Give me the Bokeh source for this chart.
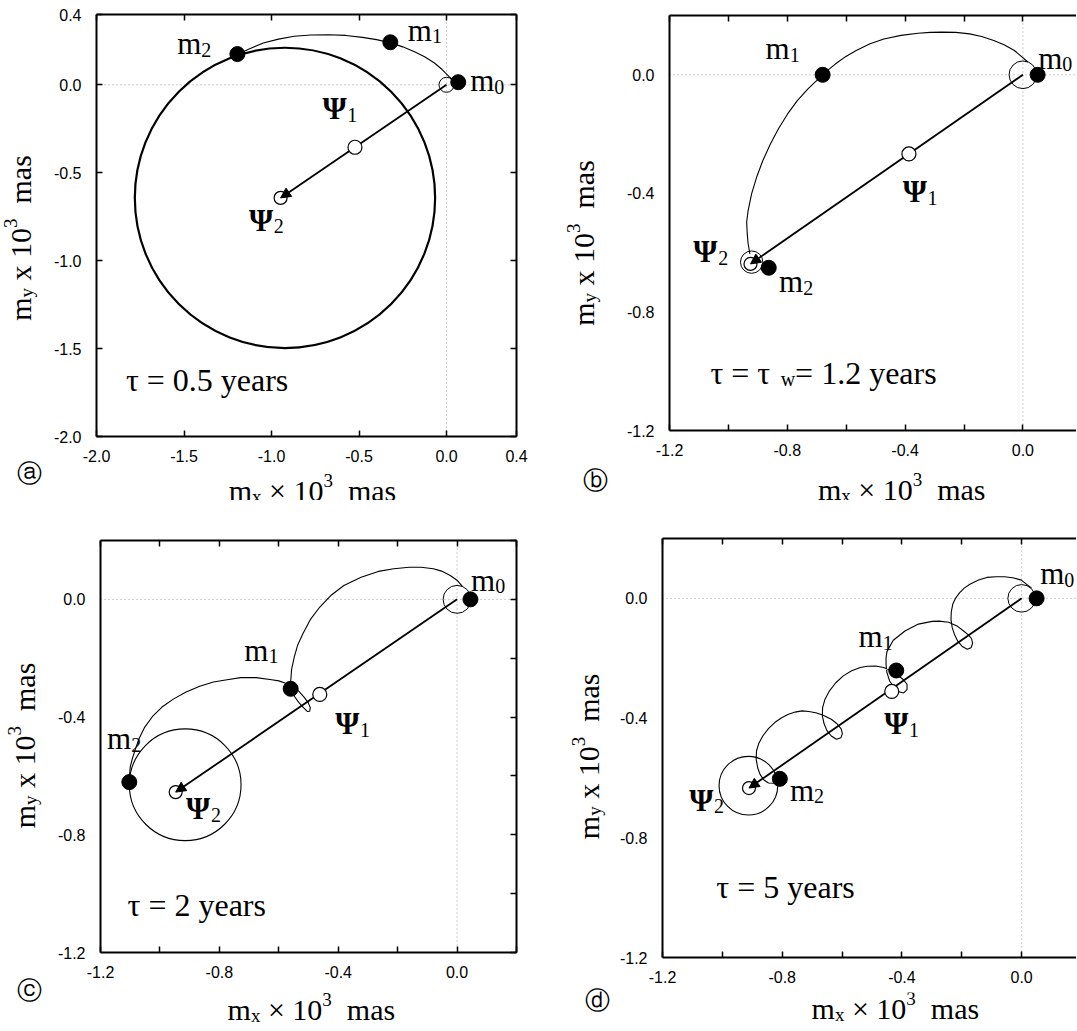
import math
from bokeh.plotting import figure
from bokeh.models import Label, Span, Arrow, NormalHead, LinearAxis, FixedTicker, PrintfTickFormatter
from bokeh.layouts import row, column
from bokeh.embed import file_html
from bokeh.resources import INLINE

SERIF = "Liberation Serif"
SANS = "Liberation Sans"

# ---------------- data ----------------
# panel a (tau = 0.5 yr)
a_path_x = [0.035, 0.019, -0.025, -0.069, -0.125, -0.186, -0.25, -0.323, -0.40, -0.48, -0.575, -0.675, -0.775, -0.871, -0.96, -1.047, -1.125, -1.195]
a_path_y = [0.030, 0.043, 0.087, 0.124, 0.160, 0.190, 0.216, 0.240, 0.257, 0.270, 0.281, 0.285, 0.283, 0.276, 0.260, 0.238, 0.205, 0.172]
a_free_circle = (-0.923, -0.643, 0.858)     # centre x, centre y, radius of the wobble after the excitation
a_m_x = [0.067, -0.321, -1.195]
a_m_y = [0.015, 0.242, 0.175]
a_psi_x = [-0.523, -0.948]
a_psi_y = [-0.355, -0.643]

# panel b (tau = tau_w = 1.2 yr)
b_path_x = [0.017, -0.029, -0.064, -0.099, -0.14, -0.181, -0.228, -0.274, -0.315, -0.356, -0.414, -0.472, -0.519, -0.566, -0.601, -0.636,
            -0.659, -0.68, -0.706, -0.729, -0.766, -0.799, -0.83, -0.857, -0.883, -0.904, -0.921, -0.933, -0.938, -0.936, -0.933, -0.927]
b_path_y = [0.043, 0.082, 0.101, 0.116, 0.129, 0.138, 0.143, 0.144, 0.143, 0.14, 0.133, 0.121, 0.105, 0.082, 0.062, 0.037,
            0.018, -0.002, -0.025, -0.047, -0.087, -0.132, -0.182, -0.233, -0.289, -0.345, -0.401, -0.458, -0.497, -0.536, -0.57, -0.604]
b_m_x = [0.05, -0.68, -0.863]
b_m_y = [0.0, 0.0, -0.651]
b_psi_x = [-0.387, -0.925]
b_psi_y = [-0.267, -0.638]
b_end_circle = (-0.921, -0.632, 0.038)

# panel c (tau = 2 yr)
c_path_x = [0.018, 0.001, -0.023, -0.052, -0.080, -0.121, -0.161, -0.213, -0.265, -0.323, -0.381, -0.425, -0.462, -0.494, -0.519, -0.537,
            -0.548, -0.557, -0.56, -0.557, -0.547, -0.533, -0.517, -0.504, -0.496, -0.494, -0.501, -0.515, -0.533, -0.554, -0.577,
            -0.60, -0.624, -0.676, -0.728, -0.774, -0.82, -0.866, -0.912, -0.955, -0.993, -1.025, -1.051, -1.07, -1.084, -1.093, -1.10, -1.102, -1.103]
c_path_y = [0.044, 0.064, 0.081, 0.096, 0.104, 0.109, 0.109, 0.104, 0.095, 0.075, 0.047, 0.013, -0.026, -0.069, -0.117, -0.157,
            -0.196, -0.239, -0.281, -0.307, -0.33, -0.35, -0.368, -0.381, -0.38, -0.368, -0.351, -0.332, -0.312, -0.295, -0.285,
            -0.277, -0.273, -0.266, -0.266, -0.273, -0.281, -0.295, -0.315, -0.339, -0.366, -0.398, -0.434, -0.473, -0.513, -0.542, -0.57, -0.595, -0.621]
c_m_x = [0.045, -0.56, -1.103]
c_m_y = [0.0, -0.304, -0.621]
c_psi_x = [-0.462, -0.947]
c_psi_y = [-0.323, -0.655]
c_end_circle = (-0.915, -0.63, 0.188)

# panel d (tau = 5 yr)
d_path_x = [0.033, -0.001, -0.03, -0.058, -0.087, -0.116, -0.144, -0.173, -0.191, -0.207, -0.221, -0.23, -0.235, -0.236,
            -0.232, -0.224, -0.213, -0.198, -0.182, -0.169, -0.164, -0.167, -0.178, -0.194, -0.216, -0.244,
            -0.276, -0.299, -0.345, -0.39, -0.429, -0.45, -0.453, -0.453,
            -0.45, -0.441, -0.427, -0.41, -0.394, -0.383, -0.383, -0.395, -0.413, -0.436, -0.461,
            -0.488, -0.516, -0.539, -0.568, -0.596, -0.621, -0.642, -0.657, -0.665, -0.666, -0.66,
            -0.651, -0.636, -0.619, -0.604, -0.599, -0.603, -0.617, -0.636, -0.665,
            -0.688, -0.711, -0.734, -0.757, -0.779, -0.802, -0.825, -0.846, -0.865, -0.878, -0.886, -0.887, -0.882,
            -0.874, -0.862, -0.846, -0.827, -0.812]
d_path_y = [0.034, 0.061, 0.069, 0.072, 0.072, 0.070, 0.061, 0.047, 0.035, 0.019, 0.0, -0.019, -0.044, -0.07,
            -0.098, -0.122, -0.144, -0.161, -0.17, -0.165, -0.151, -0.135, -0.122, -0.109, -0.092, -0.08,
            -0.076, -0.077, -0.086, -0.109, -0.14, -0.178, -0.198, -0.222,
            -0.248, -0.276, -0.296, -0.312, -0.316, -0.305, -0.287, -0.272, -0.257, -0.242, -0.231,
            -0.226, -0.227, -0.231, -0.242, -0.259, -0.282, -0.309, -0.337, -0.365, -0.393, -0.419,
            -0.441, -0.46, -0.471, -0.466, -0.452, -0.436, -0.419, -0.404, -0.39,
            -0.382, -0.378, -0.376, -0.38, -0.387, -0.399, -0.415, -0.435, -0.46, -0.484, -0.51, -0.538, -0.566,
            -0.588, -0.606, -0.617, -0.618, -0.611]
d_m_x = [0.05, -0.419, -0.808]
d_m_y = [0.0, -0.241, -0.603]
d_psi_x = [-0.434, -0.911]
d_psi_y = [-0.311, -0.634]
d_end_circle = (-0.913, -0.626, 0.098)

start_circle_r = [0.043, 0.047, 0.047, 0.046]

a_xticks = [-2.0, -1.5, -1.0, -0.5, 0.0, 0.4]
a_yticks = [-2.0, -1.5, -1.0, -0.5, 0.0, 0.4]
a_xlabel_fix = {-1.0: "-0.1", "-1": "-0.1"}   # the printed figure labels the -1.0 tick "-0.1"
bcd_major = [-1.2, -0.8, -0.4, 0.0]
bcd_minor = [-1.0, -0.6, -0.2, 0.2]

# ---------------- text helpers ----------------
W = {'m': 0.778, 'x': 0.5, 'y': 0.5, ' ': 0.25, 'a': 0.444, 's': 0.389, 'e': 0.444, 'r': 0.333,
     '=': 0.564, '\u00d7': 0.564, '\u03c4': 0.44, '\u03a8': 0.80, 'w': 0.722, '.': 0.25, '-': 0.333}
BASE_FIX = 7       # the rendered baseline sits this many px below the label anchor
BASE_FIX_ROT = 14  # same correction for the rotated axis titles


def tw(s, fs):
    return sum(W.get(c, 0.5) for c in s) * fs


def rich(p, x, y, segs, rotate=False, center=False):
    total = sum(tw(s[0], s[1]) for s in segs)
    adv = -total / 2 if center else 0.0
    for s in segs:
        t, fs, dy = s[0], s[1], s[2]
        style = s[3] if len(s) > 3 else "normal"
        lead = len(t) - len(t.lstrip(' '))
        trail = len(t) - len(t.rstrip(' '))
        core = t.strip(' ')
        adv += lead * W[' '] * fs
        if core:
            kw = dict(x=x, y=y, text=core, text_font=SERIF, text_font_size=f"{fs}px", text_font_style=style,
                      text_color="black", text_align="left", text_baseline="alphabetic")
            if rotate:
                lab = Label(x_offset=-dy - BASE_FIX_ROT, y_offset=adv, angle=math.pi / 2, **kw)
            else:
                lab = Label(x_offset=adv, y_offset=dy + BASE_FIX, **kw)
            p.add_layout(lab)
        adv += tw(core, fs) + trail * W[' '] * fs


F = 31
FT = 30
FS = 16


def sub_label(p, x, y, main, idx, fs=F):
    style = "bold" if main == "\u03a8" else "normal"
    rich(p, x, y, [(main, fs, 0, style), (idx, round(fs * 0.66), -fs * 0.2)])


def x_title(p, x, y):
    rich(p, x, y, [("m", FT, 0), ("x", 19, -6), (" \u00d7 10", FT, 0), ("3", 19, 10), ("  mas", FT, 0)], center=True)


def y_title(p, x, y):
    rich(p, x, y, [("m", FT, 0), ("y", 19, -6), (" x 10", FT, 0), ("3", 19, 10), ("  mas", FT, 0)], rotate=True, center=True)


def style_axis(ax, show_labels, ticks_in=6, standoff=12):
    ax.axis_line_width = 2
    ax.axis_line_color = "black"
    ax.major_tick_in = ticks_in
    ax.major_tick_out = 0
    ax.minor_tick_in = ticks_in
    ax.minor_tick_out = 0
    ax.major_tick_line_width = 1.5
    ax.minor_tick_line_width = 1.5
    ax.axis_label = None
    ax.formatter = PrintfTickFormatter(format="%.1f")
    if show_labels:
        ax.major_label_text_font = SANS
        ax.major_label_text_font_size = f"{FS}px"
        ax.major_label_text_color = "black"
        ax.major_label_standoff = standoff
    else:
        ax.major_label_text_font_size = "1px"
        ax.major_label_text_alpha = 0
        ax.major_label_standoff = 0


def make_fig(width, height, xr, yr, borders, xticker, yticker, right_axis, left_ticks):
    p = figure(width=width, height=height, x_range=xr, y_range=yr,
               output_backend="svg", toolbar_location=None,
               min_border_left=borders[0], min_border_right=borders[1],
               min_border_top=borders[2], min_border_bottom=borders[3])
    p.grid.visible = False
    p.outline_line_color = None
    p.background_fill_color = "white"
    p.border_fill_color = "white"
    p.xaxis.ticker = xticker
    p.yaxis.ticker = yticker
    for ax in p.xaxis:
        style_axis(ax, True, 6, 13)
    for ax in p.yaxis:
        style_axis(ax, True, 6 if left_ticks else 0, 15)
    top = LinearAxis(ticker=xticker)
    style_axis(top, False)
    p.add_layout(top, "above")
    if right_axis:
        rt = LinearAxis(ticker=yticker)
        style_axis(rt, False)
        p.add_layout(rt, "right")
    for dim in ("width", "height"):
        p.add_layout(Span(location=0, dimension=dim, line_color="#9a9a9a", line_width=1,
                          line_dash="1 3", level="underlay"))
    return p


def text_fig(w, h):
    # a blank strip that holds axis titles and panel letters (its range is its own pixel grid)
    f = figure(width=w, height=h, x_range=(0, w), y_range=(0, h), output_backend="svg",
               toolbar_location=None, x_axis_location=None, y_axis_location=None, min_border=0)
    f.xgrid.visible = False
    f.ygrid.visible = False
    f.outline_line_color = None
    f.background_fill_color = "white"
    f.border_fill_color = "white"
    return f


def draw_common(p, m_x, m_y, psi_x, psi_y, r0):
    p.circle(x=[0.0], y=[0.0], radius=r0, fill_color=None, line_color="black", line_width=1)
    p.add_layout(Arrow(end=NormalHead(size=10, fill_color="black", line_color="black", line_width=1),
                       x_start=0.0, y_start=0.0, x_end=psi_x[-1], y_end=psi_y[-1],
                       line_width=1.8, line_color="black", level="underlay"))
    p.scatter(x=psi_x[:1], y=psi_y[:1], size=14, marker="circle", fill_color="white",
              line_color="black", line_width=1.2)
    p.scatter(x=psi_x[1:], y=psi_y[1:], size=13, marker="circle", fill_color=None,
              line_color="black", line_width=1.2)
    p.scatter(x=m_x, y=m_y, size=15, marker="circle", fill_color="black", line_color="black")


def circled(p, x, y, ch):
    p.add_layout(Label(x=x, y=y, text=ch, text_font="DejaVu Sans", text_font_size="25px",
                       text_align="center", text_baseline="middle", text_color="black"))


# ---------------- panel a ----------------
pa = make_fig(490, 472, (-2.0, 0.4), (-2.0, 0.4), (44, 24, 14, 36),
              FixedTicker(ticks=a_xticks), FixedTicker(ticks=a_yticks), True, True)
pa.xaxis[0].major_label_overrides = a_xlabel_fix
cx, cy, cr = a_free_circle
pa.circle(x=[cx], y=[cy], radius=cr, fill_color=None, line_color="black", line_width=2.2)
pa.line(a_path_x, a_path_y, line_color="black", line_width=1.1)
draw_common(pa, a_m_x, a_m_y, a_psi_x, a_psi_y, start_circle_r[0])
sub_label(pa, -1.539, 0.195, "m", "2")
sub_label(pa, -0.221, 0.271, "m", "1")
sub_label(pa, 0.135, -0.017, "m", "0")
sub_label(pa, -0.709, -0.175, "\u03a8", "1")
sub_label(pa, -1.129, -0.81, "\u03a8", "2")
rich(pa, -1.832, -1.72, [("\u03c4 = 0.5 years", 32, 0)])
a_xt = text_fig(490, 28)
x_title(a_xt, 302 - 50, 3)
a_yt = text_fig(50, 500)
y_title(a_yt, 34, 262.5)
circled(a_yt, 29, 27, "\u24d0")

# ---------------- panel b ----------------
pb = make_fig(461, 471, (-1.2, 0.182), (-1.2, 0.2), (54, 0, 15, 41),
              FixedTicker(ticks=bcd_major, minor_ticks=bcd_minor),
              FixedTicker(ticks=bcd_major, minor_ticks=bcd_minor), False, False)
pb.line(b_path_x, b_path_y, line_color="black", line_width=1.1)
cx, cy, cr = b_end_circle
pb.circle(x=[cx], y=[cy], radius=cr, fill_color=None, line_color="black", line_width=1)
draw_common(pb, b_m_x, b_m_y, b_psi_x, b_psi_y, start_circle_r[1])
sub_label(pb, -0.874, 0.065, "m", "1")
sub_label(pb, 0.052, 0.033, "m", "0")
sub_label(pb, -0.408, -0.418, "\u03a8", "1")
sub_label(pb, -1.119, -0.621, "\u03a8", "2")
sub_label(pb, -0.828, -0.722, "m", "2")
rich(pb, -1.061, -1.031, [("\u03c4 = \u03c4 ", 32, 0), ("w", 20, -6), ("= 1.2 years", 32, 0)])
b_xt = text_fig(461, 29)
x_title(b_xt, 878 - 615, 4)
b_yt = text_fig(75, 500)
y_title(b_yt, 56.6, 257.5)
circled(b_yt, 55, 20, "\u24d1")

# ---------------- panel c ----------------
pc = make_fig(488, 490, (-1.2, 0.2), (-1.2, 0.2), (48, 24, 40, 38),
              FixedTicker(ticks=bcd_major, minor_ticks=bcd_minor),
              FixedTicker(ticks=bcd_major, minor_ticks=bcd_minor), True, False)
pc.line(c_path_x, c_path_y, line_color="black", line_width=1.1)
cx, cy, cr = c_end_circle
pc.circle(x=[cx], y=[cy], radius=cr, fill_color=None, line_color="black", line_width=1.1)
draw_common(pc, c_m_x, c_m_y, c_psi_x, c_psi_y, start_circle_r[2])
sub_label(pc, 0.047, 0.041, "m", "0")
sub_label(pc, -0.716, -0.196, "m", "1")
sub_label(pc, -0.41, -0.445, "\u03a8", "1")
sub_label(pc, -1.178, -0.496, "m", "2")
sub_label(pc, -0.912, -0.734, "\u03a8", "2")
rich(pc, -1.109, -1.063, [("\u03c4 = 2 years", 32, 0)])
c_xt = text_fig(488, 40)
x_title(c_xt, 299.4 - 52, 14)
c_yt = text_fig(52, 530)
y_title(c_yt, 37.8, 285)
circled(c_yt, 29, 40, "\u24d2")

# ---------------- panel d ----------------
pd_ = make_fig(460, 492, (-1.2, 0.1833), (-1.2, 0.2), (45, 0, 38, 35),
               FixedTicker(ticks=bcd_major, minor_ticks=bcd_minor),
               FixedTicker(ticks=bcd_major, minor_ticks=bcd_minor), False, False)
pd_.line(d_path_x, d_path_y, line_color="black", line_width=1.1)
cx, cy, cr = d_end_circle
pd_.circle(x=[cx], y=[cy], radius=cr, fill_color=None, line_color="black", line_width=1.1)
draw_common(pd_, d_m_x, d_m_y, d_psi_x, d_psi_y, start_circle_r[3])
sub_label(pd_, 0.062, 0.06, "m", "0")
sub_label(pd_, -0.545, -0.152, "m", "1")
sub_label(pd_, -0.459, -0.441, "\u03a8", "1")
sub_label(pd_, -1.111, -0.698, "\u03a8", "2")
sub_label(pd_, -0.774, -0.664, "m", "2")
rich(pd_, -1.02, -0.987, [("\u03c4 = 5 years", 32, 0)])
d_xt = text_fig(460, 38)
x_title(d_xt, 874.7 - 616, 15)
d_yt = text_fig(76, 530)
y_title(d_yt, 61.8, 274.2)
circled(d_yt, 56.6, 30, "\u24d3")

layout = column(
    row(a_yt, column(pa, a_xt), b_yt, column(pb, b_xt)),
    row(c_yt, column(pc, c_xt), d_yt, column(pd_, d_xt)),
)
open("out.html", "w").write(file_html(layout, INLINE))
